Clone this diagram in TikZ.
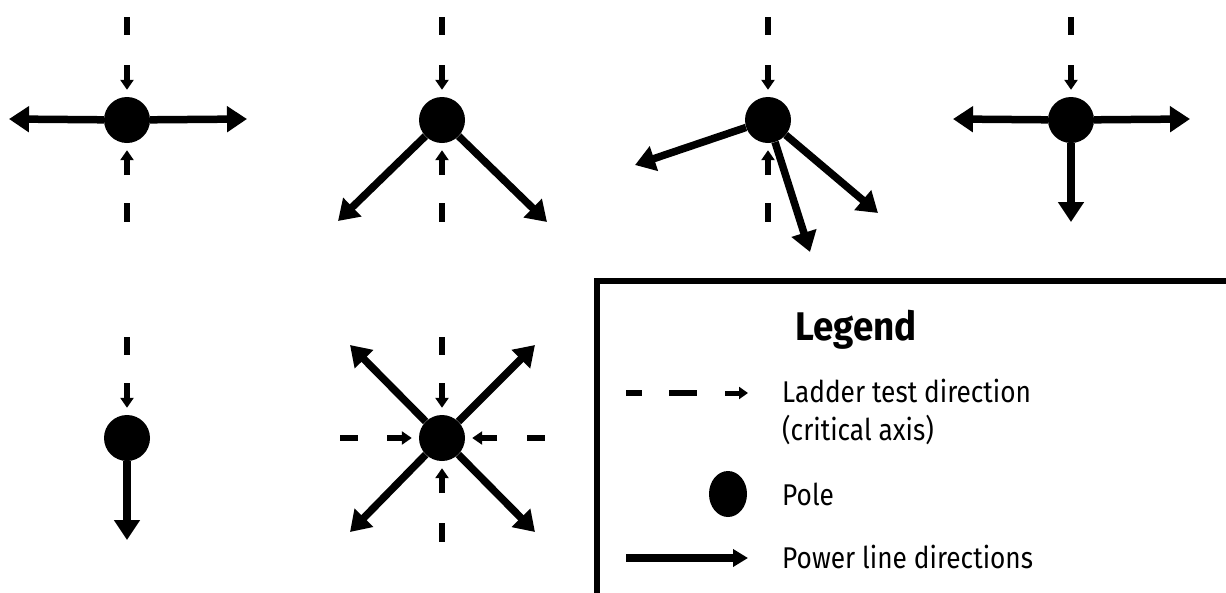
\documentclass[tikz,border=0pt]{standalone}
\usepackage{fontspec}
\setmainfont{Fira Sans}
\usetikzlibrary{arrows.meta,calc,shapes.geometric}
\tikzset{
  pole/.style={circle, fill=black, inner sep=0pt, minimum size=46pt},
  pl/.style={line width=7.5pt, -{Triangle[length=20pt,width=25pt]}},
  pllegend/.style={line width=7.5pt, -{Triangle[length=15pt,width=17pt]}},
  tst/.style={line width=5.5pt, -{Triangle[length=10pt,width=13pt]}, shorten >=7pt},
  dsh/.style={line width=5.5pt},
  lbl/.style={anchor=base west, inner sep=0pt, font=\fontsize{30}{36}\selectfont},
}
\newcommand\squeezetext[1]{\scalebox{0.875}[1]{#1}}
\begin{document}
\begin{tikzpicture}[x=1pt,y=-1pt]
\useasboundingbox (0,0) rectangle (1226,592);
\clip (0,0) rectangle (1226,592);
\fill[white] (0,0) rectangle (1226,592);

% ---------- Group 1 ----------
\node[pole] (p1) at (127,120) {};
\draw[dsh] ($(p1)+(0,-103)$) coordinate (p1ta) -- ($(p1)+(0,-85)$) coordinate (p1tb);
\coordinate (p1u) at ($(p1)+(0,-55)$);
\draw[tst] (p1u) -- (p1);
\coordinate (p1d) at ($(p1)+(0,55)$);
\draw[tst] (p1d) -- (p1);
\draw[dsh] ($(p1)+(0,83)$) coordinate (p1ba) -- ($(p1)+(0,102)$) coordinate (p1bb);
\coordinate (e1a) at (9,119);
\coordinate (e1b) at (247,119);
\draw[pl] (p1) -- (e1a);
\draw[pl] (p1) -- (e1b);

% ---------- Group 2 ----------
\node[pole] (p2) at (442,120) {};
\draw[dsh] ($(p2)+(0,-103)$) coordinate (p2ta) -- ($(p2)+(0,-85)$) coordinate (p2tb);
\coordinate (p2u) at ($(p2)+(0,-55)$);
\draw[tst] (p2u) -- (p2);
\coordinate (p2d) at ($(p2)+(0,55)$);
\draw[tst] (p2d) -- (p2);
\draw[dsh] ($(p2)+(0,83)$) coordinate (p2ba) -- ($(p2)+(0,102)$) coordinate (p2bb);
\coordinate (e2a) at (338,221);
\coordinate (e2b) at (547,222);
\draw[pl] (p2) -- (e2a);
\draw[pl] (p2) -- (e2b);

% ---------- Group 3 ----------
\node[pole] (p3) at (768,120) {};
\draw[dsh] ($(p3)+(0,-103)$) coordinate (p3ta) -- ($(p3)+(0,-85)$) coordinate (p3tb);
\coordinate (p3u) at ($(p3)+(0,-55)$);
\draw[tst] (p3u) -- (p3);
\coordinate (p3d) at ($(p3)+(0,55)$);
\draw[tst] (p3d) -- (p3);
\draw[dsh] ($(p3)+(0,83)$) coordinate (p3ba) -- ($(p3)+(0,102)$) coordinate (p3bb);
\coordinate (e3a) at (635,165);
\coordinate (e3b) at (810,252);
\coordinate (e3c) at (878,213);
\draw[pl] (p3) -- (e3a);
\draw[pl] (p3) -- (e3b);
\draw[pl] (p3) -- (e3c);

% ---------- Group 4 ----------
\node[pole] (p4) at (1071,120) {};
\draw[dsh] ($(p4)+(0,-103)$) coordinate (p4ta) -- ($(p4)+(0,-85)$) coordinate (p4tb);
\coordinate (p4u) at ($(p4)+(0,-55)$);
\draw[tst] (p4u) -- (p4);
\coordinate (e4a) at (953,119);
\coordinate (e4b) at (1190,119);
\coordinate (e4c) at (1071,222);
\draw[pl] (p4) -- (e4a);
\draw[pl] (p4) -- (e4b);
\draw[pl] (p4) -- (e4c);

% ---------- Group 5 ----------
\node[pole] (p5) at (127,438) {};
\draw[dsh] ($(p5)+(0,-101)$) coordinate (p5ta) -- ($(p5)+(0,-83)$) coordinate (p5tb);
\coordinate (p5u) at ($(p5)+(0,-55)$);
\draw[tst] (p5u) -- (p5);
\coordinate (e5a) at (127,540);
\draw[pl] (p5) -- (e5a);

% ---------- Group 6 ----------
\node[pole] (p6) at (442,438) {};
\draw[dsh] ($(p6)+(0,-101)$) coordinate (p6ta) -- ($(p6)+(0,-83)$) coordinate (p6tb);
\coordinate (p6u) at ($(p6)+(0,-55)$);
\draw[tst] (p6u) -- (p6);
\coordinate (p6d) at ($(p6)+(0,55)$);
\draw[tst] (p6d) -- (p6);
\draw[dsh] ($(p6)+(0,85)$) coordinate (p6ba) -- ($(p6)+(0,104)$) coordinate (p6bb);
\draw[dsh] ($(p6)+(-102,0)$) coordinate (p6la) -- ($(p6)+(-84,0)$) coordinate (p6lb);
\coordinate (p6l) at ($(p6)+(-55,0)$);
\draw[tst] (p6l) -- (p6);
\coordinate (p6r) at ($(p6)+(55,0)$);
\draw[tst] (p6r) -- (p6);
\draw[dsh] ($(p6)+(85,0)$) coordinate (p6ra) -- ($(p6)+(103,0)$) coordinate (p6rb);
\coordinate (e6a) at (350,345);
\coordinate (e6b) at (535,345);
\coordinate (e6c) at (350,532);
\coordinate (e6d) at (535,532);
\draw[pl] (p6) -- (e6a);
\draw[pl] (p6) -- (e6b);
\draw[pl] (p6) -- (e6c);
\draw[pl] (p6) -- (e6d);

% ---------- Legend ----------
\coordinate (lgbl) at (597,700);
\coordinate (lgtl) at (597,281);
\coordinate (lgtr) at (1300,281);
\draw[line width=5.5pt] (lgbl) -- (lgtl) -- (lgtr);
\node[anchor=base, inner sep=0pt, font=\fontsize{40}{46}\bfseries\selectfont] (lgtitle) at (856,340) {\scalebox{0.92}[1]{Legend}};

\coordinate (la1) at (626,393); \coordinate (la2) at (642,393);
\coordinate (lb1) at (669,393); \coordinate (lb2) at (697,393);
\coordinate (lc1) at (725,393); \coordinate (lc2) at (748,393);
\draw[dsh] (la1) -- (la2);
\draw[dsh] (lb1) -- (lb2);
\draw[line width=5pt, -{Triangle[length=9pt,width=12pt]}] (lc1) -- (lc2);
\node[lbl] (t1) at (782,402) {\squeezetext{Ladder test direction}};
\node[lbl] (t2) at (782,440) {\squeezetext{(critical axis)}};

\node[ellipse, fill=black, inner sep=0pt, minimum width=38pt, minimum height=46pt] (lpole) at (728,494) {};
\node[lbl] (t3) at (782,505) {\squeezetext{Pole}};

\coordinate (lp1) at (626,558); \coordinate (lp2) at (748,558);
\draw[pllegend] (lp1) -- (lp2);
\node[lbl] (t4) at (782,568) {\squeezetext{Power line directions}};
\end{tikzpicture}
\end{document}
